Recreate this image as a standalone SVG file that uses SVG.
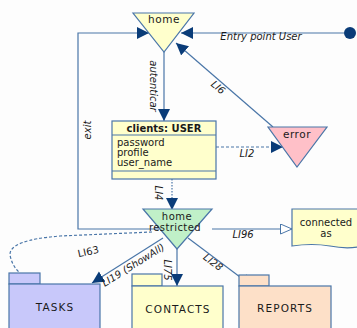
<svg xmlns="http://www.w3.org/2000/svg" width="357" height="328" viewBox="0 0 357 328">
<style>
.ln{fill:none;stroke:#4a76a8;stroke-width:1.2}
.dash{stroke-dasharray:3,2}
.dot{stroke-dasharray:1.5,1.5}
.nd{stroke:#4a76a8;stroke-width:1.2}
.t{font-family:"DejaVu Sans",Verdana,sans-serif;font-size:10.5px;fill:#1a1a1a}
.a{font-family:"DejaVu Sans",Verdana,sans-serif;font-size:10px;fill:#1a1a1a}
.lb{font-family:"DejaVu Sans",Verdana,sans-serif;font-size:10px;font-style:italic;fill:#1a1a1a}
.lbn{font-family:"DejaVu Sans",Verdana,sans-serif;font-size:10px;fill:#1a1a1a}
.c{text-anchor:middle}
.fl{letter-spacing:1.1px}
</style>
<defs>
<marker id="ah" markerUnits="userSpaceOnUse" markerWidth="14" markerHeight="13" refX="12" refY="6" orient="auto">
<path d="M0,0 L12,6 L0,12 Z" fill="#0a3c78"/>
</marker>
<marker id="oh" markerUnits="userSpaceOnUse" markerWidth="14" markerHeight="12" refX="12" refY="5.5" orient="auto">
<path d="M0.5,0.5 L12,5.5 L0.5,10.5 Z" fill="#fff" stroke="#4a76a8" stroke-width="1"/>
</marker>
</defs>
<rect width="357" height="328" fill="#fdfdfd"/>
<g id="connectors">
<path class="ln" d="M164 52 L164 121" marker-end="url(#ah)"/>
<path class="ln" d="M344 33 L181 33" marker-end="url(#ah)"/>
<path class="ln" d="M273 127 L176 43" marker-end="url(#ah)"/>
<path class="ln" d="M161 229 L78 229 L78 33 L149 33" marker-end="url(#ah)"/>
<path class="ln dash" d="M216 147 L283 147" marker-end="url(#ah)"/>
<path class="ln dot" d="M172 179 L172 210" marker-end="url(#ah)"/>
<path class="ln" d="M177 249 L177 286" marker-end="url(#ah)"/>
<path class="ln" d="M163 238 L92 283" marker-end="url(#ah)"/>
<path class="ln" d="M188 238 L252 286" marker-end="url(#ah)"/>
<path class="ln" d="M212 229 L292 229" marker-end="url(#oh)"/>
<path class="ln dash" d="M152 232 L60 236 Q 9 240 10 255 Q 12 266 20 273"/>
<circle cx="350" cy="33" r="6" fill="#0a3c78"/>
<text class="lb" x="261" y="40" text-anchor="middle">Entry point User</text>
<text class="lb c" transform="translate(216,90) rotate(40)">LI6</text>
<text class="lb c" transform="translate(150,86) rotate(90)">autenticar</text>
<text class="lb c" transform="translate(91,130) rotate(-90)">exit</text>
<text class="lb c" x="247" y="157">LI2</text>
<text class="lb c" transform="translate(155,193) rotate(90)">LI4</text>
<text class="lb c" x="243" y="238">LI96</text>
<text class="lbn c" transform="translate(89,255) rotate(-12)">LI63</text>
<text class="lb c" transform="translate(135,268) rotate(-32)">LI19 (ShowAll)</text>
<text class="lb c" transform="translate(164,270) rotate(90)">LI75</text>
<text class="lb c" transform="translate(211,265) rotate(37)">LI28</text>
</g>
<g id="home">
<polygon class="nd" points="133,13 194,13 164,52" fill="#ffffcc"/>
<text class="t c" x="164" y="23" letter-spacing="0.5">home</text>
</g>
<g id="error">
<polygon class="nd" points="268,127 327,127 297,167" fill="#ffc0c8"/>
<text class="t c" x="297" y="138" letter-spacing="0.5">error</text>
</g>
<g id="clients">
<rect class="nd" x="112" y="121" width="104" height="58" fill="#ffffcc"/>
<line class="nd" x1="112" y1="135" x2="216" y2="135"/>
<line class="nd" x1="112" y1="171" x2="216" y2="171"/>
<text class="a c" x="164" y="132" font-weight="bold">clients: USER</text>
<text class="a" x="117" y="146">password</text>
<text class="a" x="117" y="156">profile</text>
<text class="a" x="117" y="166">user_name</text>
</g>
<g id="home_restricted">
<polygon class="nd" points="143,209 212,209 177,249" fill="#c0f0c8"/>
<text class="a c" x="177" y="220" letter-spacing="0.5">home</text>
<text class="a c" x="175" y="230.5" letter-spacing="0.4">restricted</text>
</g>
<g id="connected_as">
<path class="nd" d="M292 209 L358 209 L358 247 Q 345 249 330 246 Q 312 243 292 246 Z" fill="#ffffcc"/>
<text class="a c" x="326" y="226">connected</text>
<text class="a c" x="326" y="237">as</text>
</g>
<g id="tasks">
<rect class="nd" x="9" y="273" width="31" height="11" fill="#c8c8fa"/>
<rect class="nd" x="9" y="284" width="91" height="50" fill="#c8c8fa"/>
<text class="t c fl" x="55" y="311">TASKS</text>
</g>
<g id="contacts">
<rect class="nd" x="132" y="274" width="30" height="12" fill="#ffffcc"/>
<rect class="nd" x="132" y="286" width="91" height="50" fill="#ffffcc"/>
<text class="t c fl" x="178" y="313">CONTACTS</text>
</g>
<g id="reports">
<rect class="nd" x="239" y="275" width="30" height="11" fill="#fde0c8"/>
<rect class="nd" x="239" y="286" width="92" height="50" fill="#fde0c8"/>
<text class="t c fl" x="285" y="312">REPORTS</text>
</g>
</svg>
